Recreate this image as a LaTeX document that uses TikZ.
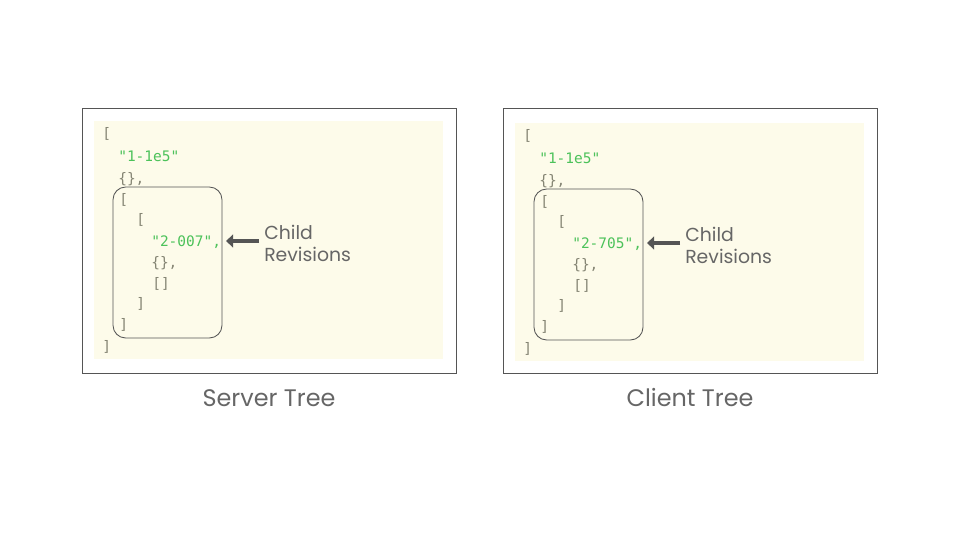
\documentclass[tikz,border=0pt]{standalone}
\usepackage{fontspec}
\setmainfont{Poppins}
\newfontfamily\codefont{DejaVu Sans Mono}
\usetikzlibrary{positioning,arrows.meta}
\definecolor{codegreen}{HTML}{4CC25A}
\definecolor{codegray}{HTML}{858574}
\definecolor{panelbg}{HTML}{FDFBEA}
\definecolor{labelgray}{HTML}{666666}
\definecolor{framegray}{HTML}{555555}
\tikzset{
  frame/.style={draw=framegray, line width=0.55pt},
  panel/.style={fill=panelbg, draw=none},
  subtree/.style={draw=framegray, line width=0.6pt, rounded corners=9pt},
  codeline/.style={anchor=base west, inner sep=0pt, font=\codefont\fontsize{10.3}{12}\selectfont, text=codegray},
  rev/.style={codeline, text=codegreen},
  pointer/.style={draw=framegray, line width=3.2pt, -{Triangle[length=5pt, width=9pt]}},
  caption/.style={font=\fontsize{17}{20}\selectfont, text=labelgray, inner sep=0pt},
  note/.style={font=\fontsize{13.4}{15.8}\selectfont, text=labelgray, align=left, anchor=north west, inner sep=0pt}
}
\begin{document}
\begin{tikzpicture}[x=0.025cm, y=-0.025cm]
  \useasboundingbox (0,0) rectangle (960,540);
  \foreach \dx/\dy/\id/\name in {0/0/007/Server, 421/2/705/Client} {
    \begin{scope}[xshift=\dx*0.025cm]
      % outer frame and caption
      \draw[frame] (82,108) rectangle (456,373);
      \node[caption] (title) at (269,398) {\name{} Tree};
      \begin{scope}[yshift=-\dy*0.025cm]
        \fill[panel] (94,121) rectangle (443,359);
        % code lines
        \node[codeline] (open) at (102,138) {[};
        \node[rev] (root) at (118,161) {"1-1e5"};
        \node[codeline] (rootdata) at (118,183) {\{\},};
        \node[codeline] (kidsopen) at (119,204) {[};
        \node[codeline] (kidopen) at (136,224) {[};
        \node[rev] (kid) at (151,246) {"2-\id",};
        \node[codeline] (kiddata) at (151,267) {\{\},};
        \node[codeline] (kidkids) at (152,288) {[]};
        \node[codeline] (kidclose) at (136,308) {]};
        \node[codeline] (kidsclose) at (119,329) {]};
        \node[codeline] (close) at (102,351) {]};
        % child block
        \draw[subtree] (113,187) rectangle (222,338);
        \coordinate (tip) at (226,241);
        \node[note] (lbl) at (264,225) {Child\\Revisions};
        \draw[pointer] (lbl.west |- tip) ++(-5,0) -- (tip);
      \end{scope}
    \end{scope}
  }
\end{tikzpicture}
\end{document}
